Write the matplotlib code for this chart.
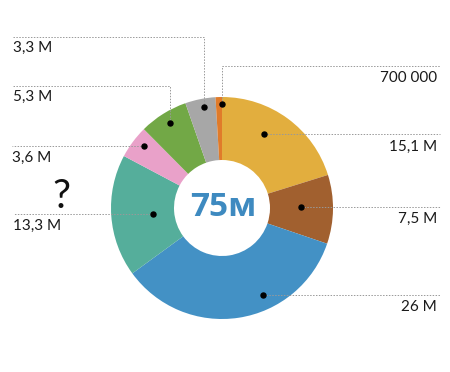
import matplotlib
matplotlib.use("Agg")
import matplotlib.pyplot as plt

labels = ["15,1 M", "7,5 M", "26 M", "13,3 M", "3,6 M", "5,3 M", "3,3 M", "700 000"]
values = [15.1, 7.5, 26.0, 13.3, 3.6, 5.3, 3.3, 0.7]
colors = ["#E2AE3E", "#A1602F", "#4391C5", "#55AE9B", "#E9A1C9", "#72A846", "#A7A7A7", "#E07B2A"]
center_text = "75м"

plt.rcParams['font.family'] = ['Lato', 'DejaVu Sans']

W, H = 450, 372
fig = plt.figure(figsize=(W / 100, H / 100), dpi=100)
ax = fig.add_axes([0, 0, 1, 1])

cx, cy = 222, H - 208
R, r_in = 111, 48
ax.pie(values, colors=colors, startangle=90, counterclock=False,
       center=(cx, cy), radius=R, wedgeprops=dict(width=R - r_in, linewidth=0),
       frame=True)
ax.set_xlim(0, W)
ax.set_ylim(0, H)
ax.set_aspect('equal')
ax.axis('off')

ax.text(cx + 1, cy, center_text, ha='center', va='center', fontsize=24,
        fontweight='bold', color='#3E8AC0', family=['Open Sans', 'DejaVu Sans'])

def py(y):
    return H - y

annots = [
    ("15,1 M", (264, 134), [(264, 134), (440, 134)], (437, 147), 'right'),
    ("7,5 M", (301, 207), [(301, 207), (440, 207)], (437, 219), 'right'),
    ("26 M", (263, 295), [(263, 295), (440, 295)], (437, 307), 'right'),
    ("13,3 M", (153, 214), [(153, 214), (13, 214)], (13, 226), 'left'),
    ("3,6 M", (144, 146), [(144, 146), (12, 146)], (12, 158), 'left'),
    ("5,3 M", (170, 123), [(170, 123), (170, 86), (13, 86)], (13, 97), 'left'),
    ("3,3 M", (204, 107), [(204, 107), (204, 37), (13, 37)], (13, 48), 'left'),
    ("700 000", (222, 104), [(222, 104), (222, 66), (440, 66)], (437, 78), 'right'),
]
for (lab, dot, path, txy, ha), name in zip(annots, labels):
    xs = [p[0] for p in path]
    ys = [py(p[1]) for p in path]
    ax.plot(xs, ys, color='#999999', lw=0.7, ls=(0, (1.5, 1.5)), zorder=3)
    ax.plot([dot[0]], [py(dot[1])], 'o', color='black', ms=3.6, zorder=4)
    ax.text(txy[0], py(txy[1]), lab, ha=ha, va='center', fontsize=11, color='#1a1a1a')

ax.text(61, py(196), "?", ha='center', va='center', fontsize=29, color='#111111')

fig.savefig("out.png", dpi=100)
